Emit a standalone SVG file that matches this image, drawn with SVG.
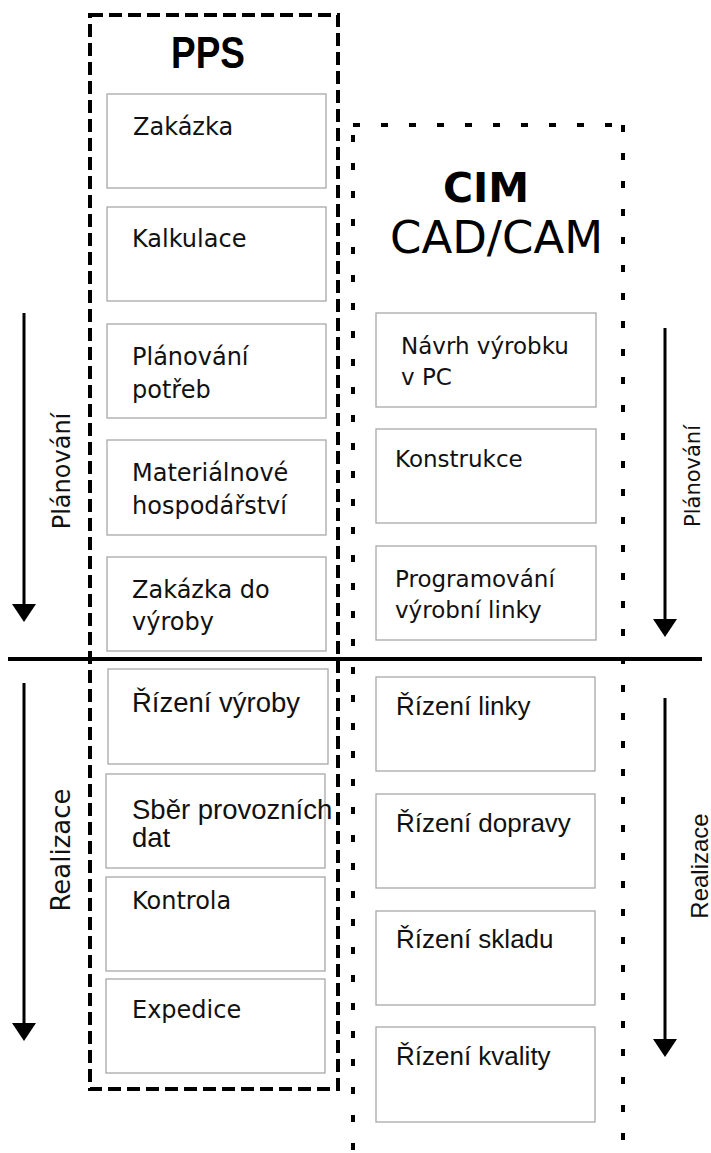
<svg xmlns="http://www.w3.org/2000/svg" width="711" height="1153" viewBox="0 0 711 1153">
  <style>
    .box { fill: #ffffff; stroke: #a8a8a8; stroke-width: 1.3; }
    .cg { font-family: "DejaVu Sans", "Liberation Sans", sans-serif; font-size: 24px; fill: #111; }
    .cg23 { font-family: "DejaVu Sans", "Liberation Sans", sans-serif; font-size: 23px; fill: #111; }
    .ar { font-family: "Liberation Sans", Arial, sans-serif; fill: #111; }
    .pps-frame { fill: none; stroke: #000; stroke-width: 4; stroke-dasharray: 13 6; }
    .cim-frame { fill: none; stroke: #000; stroke-width: 4; stroke-dasharray: 7 21; }
    .flow { stroke: #000; stroke-width: 3; fill: none; }
  </style>
  <defs>
    <marker id="ah" markerUnits="userSpaceOnUse" markerWidth="18" markerHeight="24" refX="0" refY="12" orient="auto" viewBox="0 0 18 24">
      <path d="M0,0 L18,12 L0,24 z" fill="#000"/>
    </marker>
  </defs>
  <rect width="711" height="1153" fill="#ffffff"/>

  <!-- frames -->
  <g id="pps-group">
    <rect class="pps-frame" x="90" y="15" width="248" height="1074"/>
    <text transform="translate(208,68) scale(0.84,1)" text-anchor="middle" font-family="Liberation Sans, Arial, sans-serif" font-weight="bold" font-size="44" fill="#000">PPS</text>
  </g>
  <g id="cim-group">
    <line class="cim-frame" x1="353" y1="1150" x2="353" y2="125"/>
    <line class="cim-frame" x1="353" y1="125" x2="623" y2="125"/>
    <line class="cim-frame" x1="623" y1="125" x2="623" y2="1150"/>
    <text x="443" y="202" font-family="DejaVu Sans, sans-serif" font-weight="bold" font-size="41" fill="#000">CIM</text>
    <text x="390" y="253" font-family="DejaVu Sans, sans-serif" font-size="45" fill="#000">CAD/CAM</text>
  </g>

  <!-- PPS nodes -->
  <g id="zakazka"><rect class="box" x="107" y="94" width="219" height="94"/><text class="cg" x="133" y="135">Zakázka</text></g>
  <g id="kalkulace"><rect class="box" x="107" y="207" width="219" height="94"/><text class="cg" x="132" y="247">Kalkulace</text></g>
  <g id="planovani-potreb"><rect class="box" x="107" y="324" width="219" height="94"/><text class="cg" x="132" y="365">Plánování</text><text class="cg" x="132" y="398">potřeb</text></g>
  <g id="materialove"><rect class="box" x="107" y="440" width="219" height="95"/><text class="cg" x="132" y="481">Materiálnové</text><text class="cg" x="132" y="514">hospodářství</text></g>
  <g id="zakazka-do-vyroby"><rect class="box" x="107" y="557" width="219" height="94"/><text class="cg" x="132" y="598">Zakázka do</text><text class="cg" x="132" y="630">výroby</text></g>
  <g id="rizeni-vyroby"><rect class="box" x="108" y="669" width="220" height="95"/><text class="ar" font-size="27.5" x="132" y="712">Řízení výroby</text></g>
  <g id="sber-dat"><rect class="box" x="106" y="774" width="219" height="94"/><text class="ar" font-size="27.5" x="132" y="819">Sběr provozních</text><text class="ar" font-size="27.5" x="132" y="847">dat</text></g>
  <g id="kontrola"><rect class="box" x="106" y="877" width="219" height="94"/><text class="cg" x="132" y="909">Kontrola</text></g>
  <g id="expedice"><rect class="box" x="106" y="979" width="219" height="94"/><text class="cg" x="132" y="1018">Expedice</text></g>

  <!-- CIM nodes -->
  <g id="navrh"><rect class="box" x="376" y="313" width="220" height="94"/><text class="cg23" x="401" y="354">Návrh výrobku</text><text class="cg23" x="401" y="385">v PC</text></g>
  <g id="konstrukce"><rect class="box" x="376" y="429" width="220" height="94"/><text class="cg23" x="395" y="467">Konstrukce</text></g>
  <g id="programovani"><rect class="box" x="376" y="546" width="220" height="94"/><text class="cg23" x="395" y="587">Programování</text><text class="cg23" x="395" y="618">výrobní linky</text></g>
  <g id="rizeni-linky"><rect class="box" x="376" y="677" width="219" height="94"/><text class="ar" font-size="26" x="396" y="715">Řízení linky</text></g>
  <g id="rizeni-dopravy"><rect class="box" x="376" y="794" width="219" height="94"/><text class="ar" font-size="26" x="396" y="832">Řízení dopravy</text></g>
  <g id="rizeni-skladu"><rect class="box" x="376" y="911" width="219" height="94"/><text class="ar" font-size="26" x="396" y="948">Řízení skladu</text></g>
  <g id="rizeni-kvality"><rect class="box" x="376" y="1027" width="219" height="95"/><text class="ar" font-size="26" x="396" y="1065">Řízení kvality</text></g>

  <!-- connectors / flow arrows -->
  <g id="connectors">
    <line x1="8" y1="659" x2="702" y2="659" stroke="#000" stroke-width="4"/>
    <line class="flow" x1="24" y1="313" x2="24" y2="604" marker-end="url(#ah)"/>
    <line class="flow" x1="24" y1="683" x2="24" y2="1023" marker-end="url(#ah)"/>
    <line class="flow" x1="665" y1="328" x2="665" y2="619" marker-end="url(#ah)"/>
    <line class="flow" x1="665" y1="698" x2="665" y2="1039" marker-end="url(#ah)"/>
  </g>

  <g id="labels">
    <text class="cg" transform="translate(70,471) rotate(-90)" text-anchor="middle">Plánování</text>
    <text class="cg" style="font-size:26px" transform="translate(70,850) rotate(-90)" text-anchor="middle">Realizace</text>
    <text class="cg" style="font-size:21px" transform="translate(700,476) rotate(-90)" text-anchor="middle">Plánování</text>
    <text class="ar" font-size="24" transform="translate(708,866) rotate(-90)" text-anchor="middle">Realizace</text>
  </g>
</svg>
